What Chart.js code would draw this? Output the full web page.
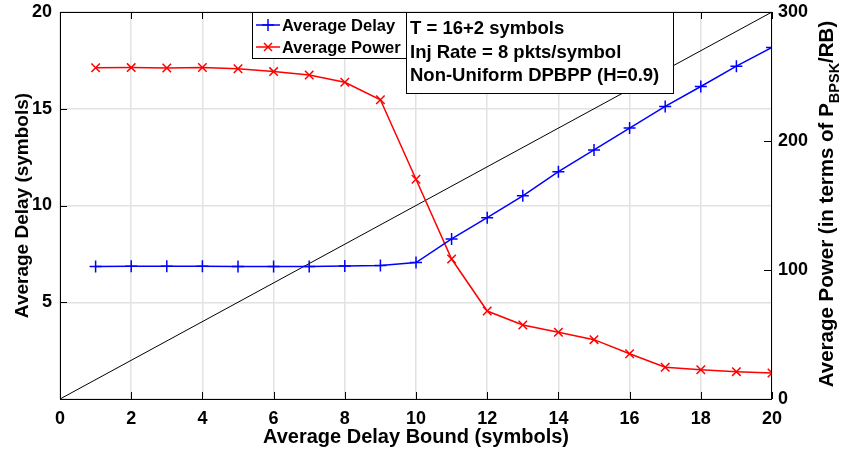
<!DOCTYPE html>
<html><head><meta charset="utf-8">
<script src="https://cdn.jsdelivr.net/npm/chart.js@4"></script>
<style>html,body{margin:0;padding:0;background:#fff}#wrap{width:846px;height:452px}</style>
</head><body><div id="wrap"><canvas id="c" width="846" height="452"></canvas></div>
<script>
const delayBound = [1,2,3,4,5,6,7,8,9,10,11,12,13,14,15,16,17,18,19,20];
const avgDelay = [6.85,6.86,6.86,6.86,6.85,6.85,6.85,6.87,6.9,7.05,8.27,9.37,10.5,11.75,12.87,14.0,15.12,16.15,17.2,18.17];
const avgPower = [256.8,256.9,256.6,257.0,256.0,253.8,251.2,245.5,232.0,170.3,108.5,68.2,57.4,51.7,46.0,35.1,24.6,22.7,21.2,20.2];
const refX = [0,20];
const refY = [0,20];
const legendLabels = ['Average Delay','Average Power'];
const noteLines = ['T = 16+2 symbols','Inj Rate = 8 pkts/symbol','Non-Uniform DPBPP (H=0.9)'];
const xTitle = 'Average Delay Bound (symbols)';
const yTitle = 'Average Delay (symbols)';
const y2Title = ['Average Power (in terms of P','BPSK','/RB)'];

const FONT = "'Liberation Sans', Arial, sans-serif";
const BLUE = '#0000ff', RED = '#ff0000';

const decor = {
  id:'decor',
  afterDraw(chart){
    const ctx = chart.ctx, a = chart.chartArea;
    const xs = chart.scales.x, ys = chart.scales.y, y2 = chart.scales.y2;
    ctx.save();
    // box
    ctx.strokeStyle = '#000'; ctx.lineWidth = 1;
    ctx.strokeRect(a.left+0.5, a.top+0.5, a.right-a.left-1, a.bottom-a.top);
    // ticks
    ctx.beginPath();
    xs.ticks.forEach(t=>{ const px = Math.round(xs.getPixelForValue(t.value))+0.5;
      ctx.moveTo(px,a.bottom); ctx.lineTo(px,a.bottom-7);
      ctx.moveTo(px,a.top); ctx.lineTo(px,a.top+7); });
    ys.ticks.forEach(t=>{ const py = Math.round(ys.getPixelForValue(t.value))+0.5;
      ctx.moveTo(a.left,py); ctx.lineTo(a.left+7,py); });
    y2.ticks.forEach(t=>{ const py = Math.round(y2.getPixelForValue(t.value))+0.5;
      ctx.moveTo(a.right,py); ctx.lineTo(a.right-8,py); });
    ctx.stroke();

    // legend box
    const lx=252, ly=12, lw=154, lh=46;
    ctx.fillStyle='#fff'; ctx.fillRect(lx,ly,lw,lh);
    ctx.strokeStyle='#000'; ctx.strokeRect(lx+0.5,ly+0.5,lw,lh);
    const items=[{c:BLUE,m:'plus'},{c:RED,m:'x'}];
    items.forEach((it,i)=>{
      const cy = ly+13+i*22;
      ctx.strokeStyle=it.c; ctx.lineWidth=1.5;
      ctx.beginPath(); ctx.moveTo(lx+4,cy); ctx.lineTo(lx+28,cy); ctx.stroke();
      const mx=lx+16, r=6;
      ctx.beginPath();
      if(it.m==='plus'){ctx.moveTo(mx-r,cy);ctx.lineTo(mx+r,cy);ctx.moveTo(mx,cy-r);ctx.lineTo(mx,cy+r);}
      else {ctx.moveTo(mx-4,cy-4);ctx.lineTo(mx+4,cy+4);ctx.moveTo(mx-4,cy+4);ctx.lineTo(mx+4,cy-4);}
      ctx.stroke();
      ctx.fillStyle='#000'; ctx.font='bold 16.5px '+FONT; ctx.textBaseline='middle'; ctx.textAlign='left';
      ctx.fillText(legendLabels[i], lx+30, cy+1);
    });
    // note box
    const nx=406, ny=12, nw=267, nh=81;
    ctx.fillStyle='#fff'; ctx.fillRect(nx,ny,nw,nh);
    ctx.strokeStyle='#000'; ctx.lineWidth=1; ctx.strokeRect(nx+0.5,ny+0.5,nw,nh);
    ctx.fillStyle='#000'; ctx.font='bold 18.5px '+FONT; ctx.textBaseline='middle';
    noteLines.forEach((s,i)=>ctx.fillText(s, nx+4, ny+17+i*23.5));

    // right title with subscript
    ctx.translate(827, 204); ctx.rotate(-Math.PI/2);
    const f1='bold 20.5px '+FONT, f2='bold 14.5px '+FONT;
    ctx.font=f1; const w1=ctx.measureText(y2Title[0]).width, w3=ctx.measureText(y2Title[2]).width;
    ctx.font=f2; const w2=ctx.measureText(y2Title[1]).width;
    let x0 = -(w1+w2+w3)/2;
    ctx.textAlign='left'; ctx.textBaseline='alphabetic';
    ctx.font=f1; ctx.fillText(y2Title[0], x0, 6);
    ctx.font=f2; ctx.fillText(y2Title[1], x0+w1, 12);
    ctx.font=f1; ctx.fillText(y2Title[2], x0+w1+w2, 6);
    ctx.restore();
  }
};

function noPadV(s){ s.paddingTop = 0; s.paddingBottom = 0; }

new Chart(document.getElementById('c'), {
  type:'line',
  data:{
    datasets:[
      {label:'ref', data:refX.map((x,i)=>({x,y:refY[i]})), borderColor:'#000', borderWidth:1, pointRadius:0, yAxisID:'y', order:3},
      {label:legendLabels[0], data:delayBound.map((x,i)=>({x,y:avgDelay[i]})), borderColor:BLUE, backgroundColor:BLUE, borderWidth:1.5, pointStyle:'cross', pointRadius:6, pointBorderWidth:1.5, yAxisID:'y', order:1},
      {label:legendLabels[1], data:delayBound.map((x,i)=>({x,y:avgPower[i]})), borderColor:RED, backgroundColor:RED, borderWidth:1.5, pointStyle:'crossRot', pointRadius:6, pointBorderWidth:1.5, yAxisID:'y2', order:2}
    ]
  },
  options:{
    responsive:false, animation:false, devicePixelRatio:1,
    layout:{padding:{top:12,left:0,right:0,bottom:0}},
    plugins:{legend:{display:false}, tooltip:{enabled:false}},
    elements:{line:{tension:0}},
    scales:{
      x:{type:'linear', min:0, max:20,
        ticks:{stepSize:2, padding:9, color:'#000', font:{family:FONT, weight:'bold', size:18}},
        grid:{color:'#e2e2e2', lineWidth:1.5, drawTicks:false}, border:{display:false},
        title:{display:true, text:xTitle, color:'#000', font:{family:FONT, weight:'bold', size:20}, padding:{top:0,bottom:3}},
        afterFit(s){s.height=53; s.paddingLeft=0; s.paddingRight=0;}
      },
      y:{position:'left', min:0, max:20,
        ticks:{stepSize:5, padding:8, color:'#000', font:{family:FONT, weight:'bold', size:18}, callback:v=>v===0?'':v},
        grid:{color:'#e2e2e2', lineWidth:1.5, drawTicks:false}, border:{display:false},
        title:{display:true, text:yTitle, color:'#000', font:{family:FONT, weight:'bold', size:19}, padding:{top:11,bottom:0}},
        afterFit(s){s.width=60; noPadV(s);}
      },
      y2:{position:'right', min:0, max:300,
        ticks:{stepSize:100, padding:6, color:'#000', font:{family:FONT, weight:'bold', size:18}},
        grid:{display:false, drawTicks:false}, border:{display:false},
        afterFit(s){s.width=74; noPadV(s);}
      }
    }
  },
  plugins:[decor]
});
</script></body></html>
